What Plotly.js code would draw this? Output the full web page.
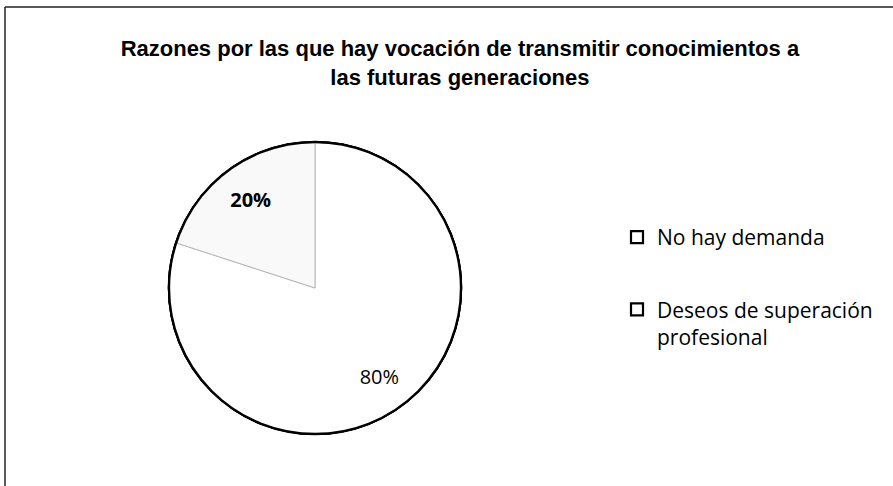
<!DOCTYPE html>
<html>
<head>
<meta charset="utf-8">
<script src="https://cdn.plot.ly/plotly-3.0.1.min.js"></script>
<style>html,body{margin:0;padding:0;background:#fff;}#chart{width:893px;height:486px;}</style>
</head>
<body>
<div id="chart"></div>
<script>
const chartTitle = "Razones por las que hay vocación de transmitir conocimientos a<br>las futuras generaciones";
const categories = ["No hay demanda", "Deseos de superación<br>profesional"];
const values = [80, 20];
const textTemplates = ["%{percent}", "<b>%{percent}</b>"];

const W = 893, H = 486;
const cx = 315, cy = 288, r = 146;
const domain = {
  x: [(cx - r) / W, (cx + r) / W],
  y: [1 - (cy + r) / H, 1 - (cy - r) / H]
};

const traces = [];

// legend entries: one single-value pie per category (full circles hidden under the main pie)
categories.forEach((c, i) => {
  traces.push({
    type: "pie",
    values: [values[i]],
    labels: [c],
    domain: domain,
    legendgroup: "g" + i,
    marker: {colors: ["#ffffff"], line: {color: "#000000", width: 2.2}},
    textinfo: "none",
    hoverinfo: "skip",
    showlegend: true
  });
});

// main pie
traces.push({
  type: "pie",
  values: values,
  labels: categories,
  sort: false,
  direction: "clockwise",
  rotation: 0,
  domain: domain,
  marker: {colors: ["#ffffff", "#f9f9f9"], line: {color: "#b0b0b0", width: 0.9}},
  textinfo: "none",
  hoverinfo: "label+percent",
  showlegend: false
});

// percentage labels (placed in the outer ring like the reference)
traces.push({
  type: "pie",
  values: values,
  labels: categories,
  sort: false,
  direction: "clockwise",
  rotation: 0,
  hole: 0.5,
  domain: domain,
  marker: {colors: ["rgba(0,0,0,0)", "rgba(0,0,0,0)"], line: {width: 0}},
  texttemplate: textTemplates,
  textposition: "inside",
  insidetextorientation: "horizontal",
  textfont: {family: "Open Sans, sans-serif", size: 20, color: "#000000"},
  hoverinfo: "skip",
  showlegend: false
});

// outer outline
traces.push({
  type: "pie",
  values: [values.reduce((a, b) => a + b, 0)],
  labels: ["total"],
  domain: domain,
  marker: {colors: ["rgba(0,0,0,0)"], line: {color: "#000000", width: 2.4}},
  textinfo: "none",
  hoverinfo: "skip",
  showlegend: false
});

const layout = {
  width: W, height: H,
  margin: {l: 0, r: 0, t: 0, b: 0},
  paper_bgcolor: "#ffffff",
  title: {
    text: "<b>" + chartTitle + "</b>",
    font: {family: "Liberation Sans Narrow, Arial Narrow, Liberation Sans, sans-serif", size: 22, color: "#000000"},
    x: 0.515, xanchor: "center", xref: "container",
    y: 1 - 56 / H, yanchor: "top", yref: "container"
  },
  showlegend: true,
  legend: {
    x: 617 / W, xanchor: "left",
    y: 1 - 217 / H, yanchor: "top",
    valign: "top",
    tracegroupgap: 42,
    font: {family: "Open Sans, sans-serif", size: 21, color: "#000000"},
    bgcolor: "rgba(0,0,0,0)",
    itemclick: false, itemdoubleclick: false
  },
  shapes: [
    {type: "line", xref: "paper", yref: "paper", x0: 5 / W, x1: 1, y0: 1 - 7 / H, y1: 1 - 7 / H, line: {color: "#222", width: 1.5}},
    {type: "line", xref: "paper", yref: "paper", x0: 5 / W, x1: 5 / W, y0: 1 - 7 / H, y1: 0, line: {color: "#222", width: 1.5}}
  ]
};

Plotly.newPlot("chart", traces, layout, {displayModeBar: false});
</script>
</body>
</html>
